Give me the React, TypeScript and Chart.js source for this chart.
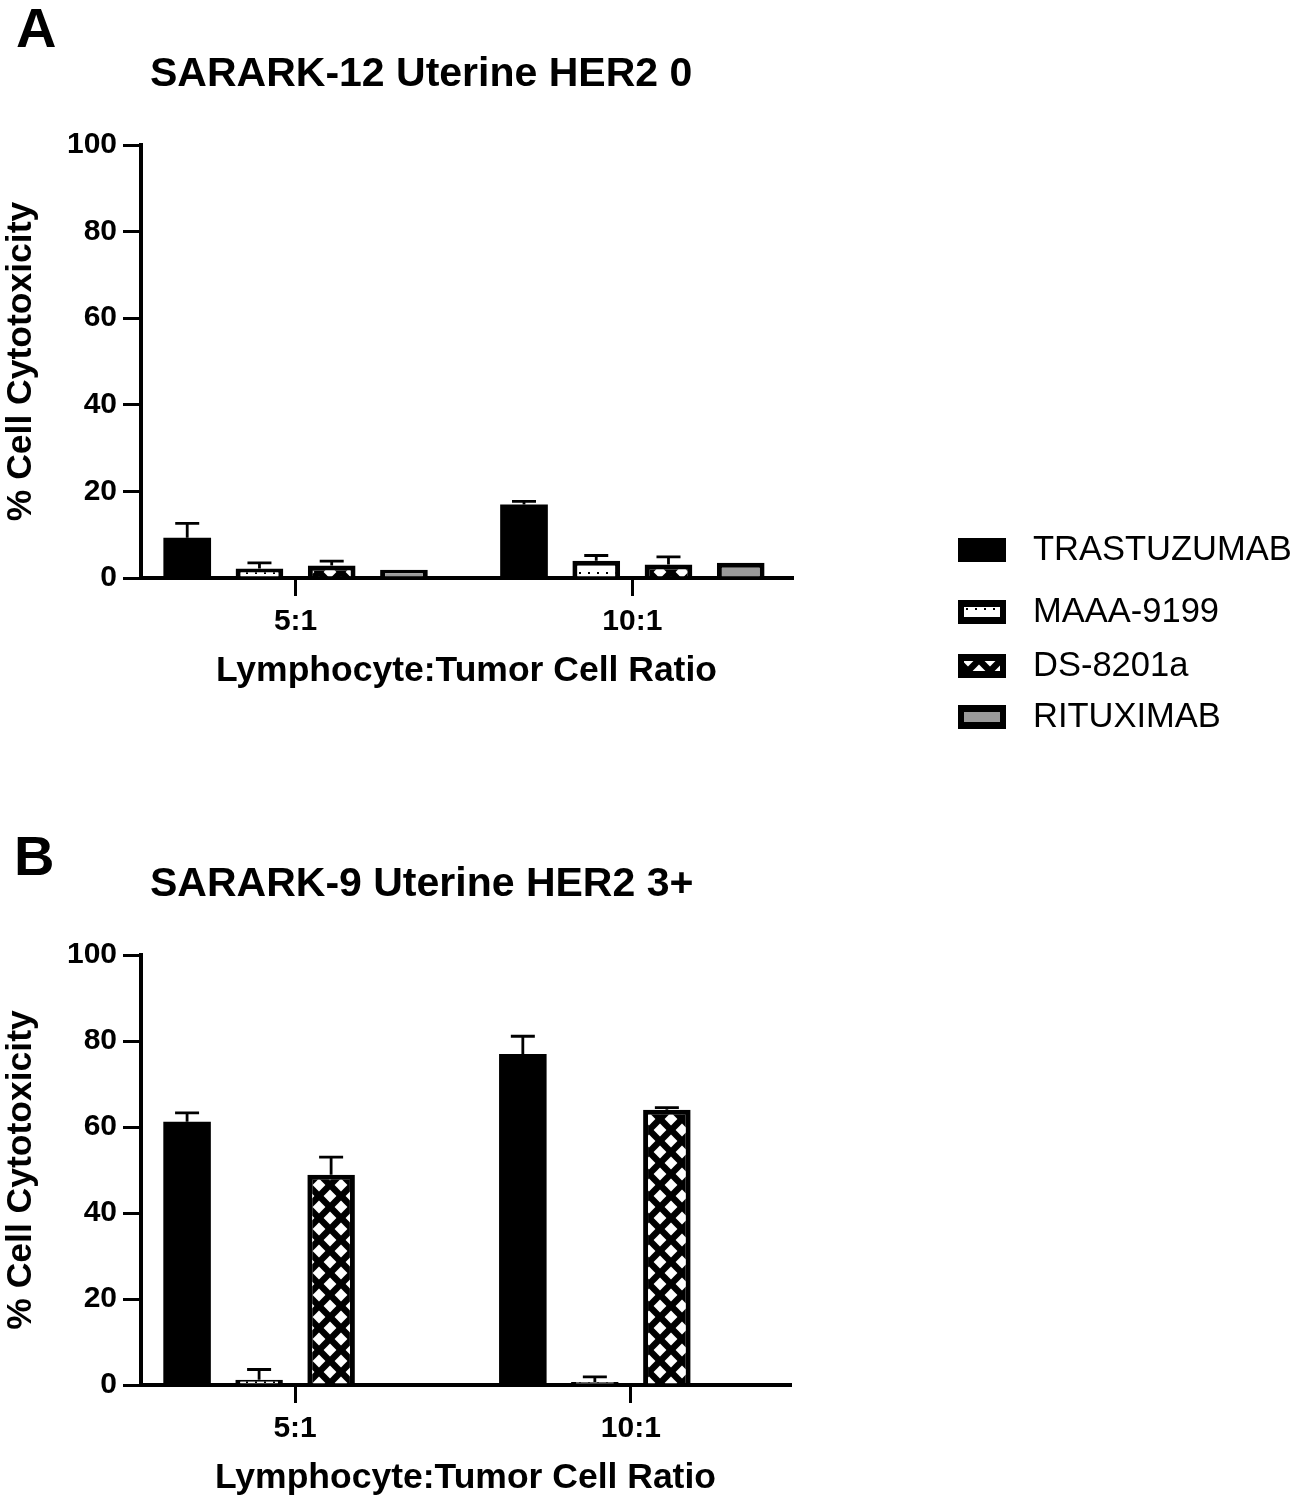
import React, { useEffect, useRef } from 'react';
import { Chart, registerables } from 'chart.js';

Chart.register(...registerables);

const FONT = '"Liberation Sans", Arial, Helvetica, sans-serif';
Chart.defaults.font.family = FONT;
Chart.defaults.color = '#000';

// ---------- data ----------
const categories = ['5:1', '10:1'];
const seriesNames = ['TRASTUZUMAB', 'MAAA-9199', 'DS-8201a', 'RITUXIMAB'];
const yTickValues = [0, 20, 40, 60, 80, 100];

// Panel A: SARARK-12 Uterine HER2 0
const aTrastuzumab = [9.3, 17.0];
const aMaaa9199 = [2.2, 4.0];
const aDs8201a = [2.9, 3.1];
const aRituximab = [1.9, 3.5];
const aTrastuzumabErr = [3.3, 0.7];
const aMaaa9199Err = [1.3, 1.2];
const aDs8201aErr = [1.0, 1.8];
const aRituximabErr = [0, 0];

// Panel B: SARARK-9 Uterine HER2 3+
const bTrastuzumab = [61.2, 77.0];
const bMaaa9199 = [1.2, 0.7];
const bDs8201a = [48.9, 64.0];
const bRituximab = [0, 0];
const bTrastuzumabErr = [2.1, 4.1];
const bMaaa9199Err = [2.4, 1.2];
const bDs8201aErr = [4.1, 0.5];
const bRituximabErr = [0, 0];

// ---------- patterns ----------
function makeDotPattern(ctx: CanvasRenderingContext2D) {
  const c = document.createElement('canvas');
  c.width = 9; c.height = 9;
  const g = c.getContext('2d')!;
  g.fillStyle = '#fff'; g.fillRect(0, 0, 9, 9);
  g.fillStyle = '#000'; g.fillRect(3, 5, 2, 2);
  return ctx.createPattern(c, 'repeat')!;
}
function makeDiamondPattern(ctx: CanvasRenderingContext2D) {
  const s = 22;
  const c = document.createElement('canvas');
  c.width = s; c.height = s;
  const g = c.getContext('2d')!;
  g.fillStyle = '#000'; g.fillRect(0, 0, s, s);
  g.fillStyle = '#fff';
  const r = 6.4;
  const centers = [[0, 0], [s, 0], [0, s], [s, s], [s / 2, s / 2]];
  centers.forEach(([cx, cy]) => {
    g.beginPath();
    g.moveTo(cx - r, cy); g.lineTo(cx, cy - r); g.lineTo(cx + r, cy); g.lineTo(cx, cy + r);
    g.closePath(); g.fill();
  });
  return ctx.createPattern(c, 'repeat')!;
}

// ---------- plugins ----------
const errorBarPlugin = {
  id: 'errorBars',
  afterDatasetsDraw(chart: any) {
    const ctx = chart.ctx;
    const yScale = chart.scales.y;
    chart.data.datasets.forEach((ds: any, di: number) => {
      const meta = chart.getDatasetMeta(di);
      const errs: number[] = ds.errors || [];
      meta.data.forEach((bar: any, i: number) => {
        const e = errs[i];
        if (!e) return;
        const v = ds.data[i].y;
        const top = yScale.getPixelForValue(v + e);
        ctx.save();
        ctx.strokeStyle = '#000';
        ctx.lineWidth = 2.8;
        ctx.beginPath();
        ctx.moveTo(bar.x, bar.y);
        ctx.lineTo(bar.x, top);
        ctx.moveTo(bar.x - 12, top);
        ctx.lineTo(bar.x + 12, top);
        ctx.stroke();
        ctx.restore();
      });
    });
  },
};

const legendPlugin = {
  id: 'sideLegend',
  afterDraw(chart: any) {
    const ctx = chart.ctx;
    const rowsY = [550, 612, 666, 717];
    const x = 958, w = 48, h = 24;
    chart.data.datasets.forEach((ds: any, i: number) => {
      const cy = rowsY[i];
      ctx.save();
      ctx.fillStyle = '#000';
      ctx.fillRect(x, cy - h / 2, w, h);
      if (i > 0) {
        ctx.fillStyle = ds.backgroundColor;
        ctx.fillRect(x + 6, cy - h / 2 + 7, w - 12, h - 14);
      }
      ctx.font = `34.5px ${FONT}`;
      ctx.fillStyle = '#000';
      ctx.textBaseline = 'middle';
      ctx.textAlign = 'left';
      ctx.fillText(ds.label, 1033, cy);
      ctx.restore();
    });
  },
};

// ---------- config ----------
type Geom = { top: number; right: number; xAxisHeight: number; xTitlePad: number };

function makeConfig(ctx: CanvasRenderingContext2D, values: number[][], errors: number[][], geom: Geom, withLegend: boolean): any {
  const fills = ['#000', makeDotPattern(ctx), makeDiamondPattern(ctx), '#9a9a9a'];
  const axisGrid = { display: true, drawOnChartArea: false, drawTicks: true, tickLength: 18, lineWidth: 3, color: '#000', offset: false };
  const axisBorder = { display: true, width: 4, color: '#000' };
  return {
    type: 'bar',
    data: {
      datasets: seriesNames.map((name, s) => ({
        label: name,
        data: values[s].map((v, i) => ({ x: i, y: v })),
        backgroundColor: fills[s],
        borderColor: '#000',
        borderWidth: s === 0 ? 0 : 5,
        errors: errors[s],
      })),
    },
    options: {
      animation: false,
      responsive: false,
      maintainAspectRatio: false,
      devicePixelRatio: 1,
      layout: { padding: { top: geom.top, right: geom.right, left: 0, bottom: 0 } },
      datasets: { bar: { categoryPercentage: 0.858, barPercentage: 0.66 } },
      plugins: { legend: { display: false }, tooltip: { enabled: false }, title: { display: false } },
      scales: {
        x: {
          type: 'linear',
          bounds: 'data',
          min: -0.459,
          max: 1.474,
          offset: false,
          z: 1,
          afterBuildTicks: (sc: any) => { sc.ticks = categories.map((_, i) => ({ value: i })); },
          afterFit: (sc: any) => { sc.height = geom.xAxisHeight; },
          ticks: {
            callback: (_v: any, i: number) => categories[i],
            font: { size: 30, weight: 'bold' },
            color: '#000',
            padding: 7.5,
            maxRotation: 0,
            autoSkip: false,
          },
          grid: axisGrid,
          border: axisBorder,
          title: {
            display: true,
            text: 'Lymphocyte:Tumor Cell Ratio',
            font: { size: 35.5, weight: 'bold', lineHeight: 1.2 },
            color: '#000',
            padding: { top: 0, bottom: geom.xTitlePad },
          },
        },
        y: {
          type: 'linear',
          min: 0,
          max: 100,
          z: 1,
          afterBuildTicks: (sc: any) => { sc.ticks = yTickValues.map((v) => ({ value: v })); },
          afterFit: (sc: any) => { sc.width = 141; },
          ticks: { font: { size: 30, weight: 'bold' }, color: '#000', padding: 6 },
          grid: axisGrid,
          border: axisBorder,
          title: {
            display: true,
            text: '% Cell Cytotoxicity',
            font: { size: 35.5, weight: 'bold', lineHeight: 1.2 },
            color: '#000',
            padding: 0,
          },
        },
      },
    },
    plugins: withLegend ? [errorBarPlugin, legendPlugin] : [errorBarPlugin],
  };
}

function Panel(props: { top: number; height: number; values: number[][]; errors: number[][]; geom: Geom; legend: boolean }) {
  const ref = useRef<HTMLCanvasElement>(null);
  useEffect(() => {
    const canvas = ref.current!;
    const ctx = canvas.getContext('2d')!;
    const chart = new Chart(canvas, makeConfig(ctx, props.values, props.errors, props.geom, props.legend));
    return () => chart.destroy();
  }, []);
  return (
    <canvas
      ref={ref}
      width={1295}
      height={props.height}
      style={{ position: 'absolute', left: 0, top: props.top, width: 1295, height: props.height }}
    />
  );
}

const textStyle = (left: number, top: number, size: number): React.CSSProperties => ({
  position: 'absolute',
  left,
  top,
  fontFamily: FONT,
  fontWeight: 'bold',
  fontSize: size,
  lineHeight: 1,
  color: '#000',
  whiteSpace: 'nowrap',
});

export default function App() {
  return (
    <div style={{ position: 'absolute', left: 0, top: 0, width: 1295, height: 1500, background: '#fff', overflow: 'hidden' }}>
      <Panel
        top={0}
        height={770}
        values={[aTrastuzumab, aMaaa9199, aDs8201a, aRituximab]}
        errors={[aTrastuzumabErr, aMaaa9199Err, aDs8201aErr, aRituximabErr]}
        geom={{ top: 145, right: 503, xAxisHeight: 192, xTitlePad: 77.7 }}
        legend={true}
      />
      <Panel
        top={800}
        height={700}
        values={[bTrastuzumab, bMaaa9199, bDs8201a, bRituximab]}
        errors={[bTrastuzumabErr, bMaaa9199Err, bDs8201aErr, bRituximabErr]}
        geom={{ top: 155, right: 505, xAxisHeight: 115, xTitlePad: 0.7 }}
        legend={false}
      />
      <div style={textStyle(16, 0, 56)}>A</div>
      <div style={textStyle(150, 52, 41)}>SARARK-12 Uterine HER2 0</div>
      <div style={textStyle(14, 828, 56)}>B</div>
      <div style={textStyle(150, 862, 41)}>SARARK-9 Uterine HER2 3+</div>
    </div>
  );
}
